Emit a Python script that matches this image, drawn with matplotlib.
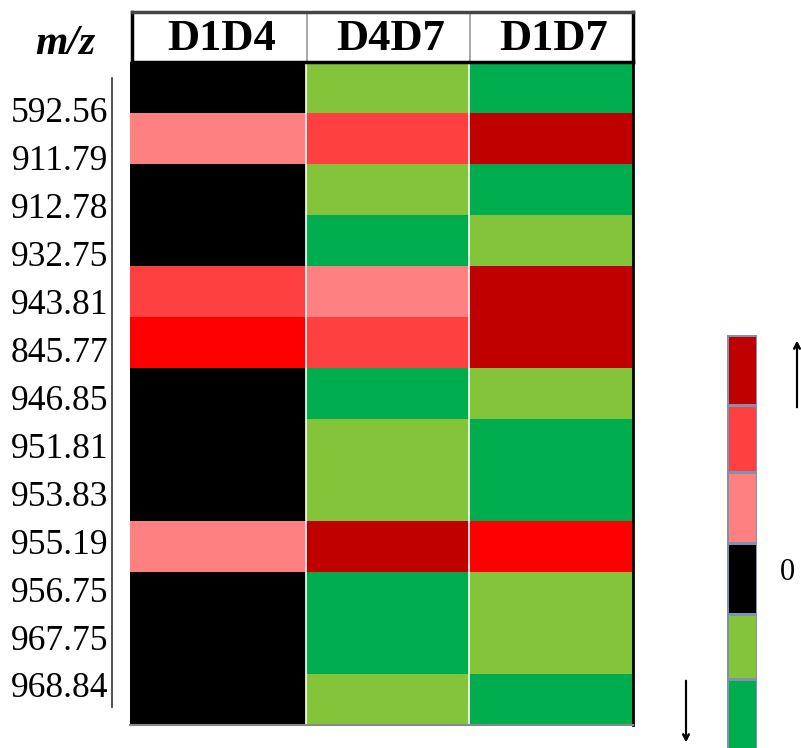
import numpy as np
import matplotlib.pyplot as plt
from matplotlib.colors import ListedColormap, BoundaryNorm
from matplotlib.lines import Line2D

# m/z rows and pairwise comparisons
mz_labels = ["592.56", "911.79", "912.78", "932.75", "943.81", "845.77", "946.85",
             "951.81", "953.83", "955.19", "956.75", "967.75", "968.84"]
comparisons = ["D1D4", "D4D7", "D1D7"]

# change level per cell: -2 strong down ... 0 unchanged ... 4 strong up
d1d4 = [0, 1, 0, 0, 2, 3, 0, 0, 0, 1, 0, 0, 0]
d4d7 = [-1, 2, -1, -2, 1, 2, -2, -1, -1, 4, -2, -2, -1]
d1d7 = [-2, 4, -2, -1, 4, 4, -1, -2, -2, 3, -1, -1, -2]

level_colors = ["#00AD4E", "#84C43A", "#000000", "#FF8080", "#FF4040", "#FF0000", "#C00000"]
# legend scale (top to bottom)
scale_levels = [4, 2, 1, 0, -1, -2]

W, H = 801, 748
serif = "Liberation Serif"

# layout in pixels
col_edges = [130, 306, 469, 633]
row_top, row_bottom = 62, 725
scale_edges = [335, 405, 472, 543, 614, 679, 760]


def px_axes(fig, left, top, right, bottom):
    return fig.add_axes([left / W, 1 - bottom / H, (right - left) / W, (bottom - top) / H])


def fy(y):
    return 1 - y / H


cmap = ListedColormap(level_colors)
norm = BoundaryNorm(np.arange(-2.5, 5.5, 1), cmap.N)

fig = plt.figure(figsize=(W / 100, H / 100), dpi=100)

# heatmap, drawn in pixel units so the column widths follow col_edges
data = np.array([d1d4, d4d7, d1d7]).T
n_rows = len(mz_labels)
row_edges = np.linspace(row_top, row_bottom, n_rows + 1)
ax = px_axes(fig, col_edges[0], row_top, col_edges[-1], row_bottom)
ax.pcolormesh(col_edges, row_edges, data, cmap=cmap, norm=norm)
ax.set_xlim(col_edges[0], col_edges[-1])
ax.set_ylim(row_bottom, row_top)
ax.set_xticks([])
# labels sit on a slightly tighter pitch than the rows
ax.set_yticks(np.linspace(110, 685, n_rows))
ax.set_yticklabels(mz_labels, fontsize=25.5, family=serif)
ax.tick_params(axis="y", length=0, pad=15.5)
for x in col_edges[1:-1]:
    ax.axvline(x, color="white", lw=1.2)
for side in ("top", "left"):
    ax.spines[side].set_visible(False)
ax.spines["right"].set_linewidth(2)
ax.spines["bottom"].set_color("#888888")
ax.spines["bottom"].set_linewidth(1.5)

# column header box
hx = px_axes(fig, 132, 12, col_edges[-1], row_top)
hx.set_xlim(col_edges[0], col_edges[-1])
hx.set_ylim(row_top, 12)
hx.set_xticks([])
hx.set_yticks([])
for i, name in enumerate(comparisons):
    hx.text((col_edges[i] + col_edges[i + 1]) / 2 + 2, 39, name, ha="center", va="center",
            fontsize=32, fontweight="bold", family=serif)
for x in col_edges[1:-1]:
    hx.axvline(x, color="#999999", lw=1.2)
for side in hx.spines.values():
    side.set_linewidth(2.5)
hx.spines["top"].set_color("#444444")

fig.text(65 / W, fy(44), "m/z", ha="center", va="center", fontsize=30,
         fontweight="bold", fontstyle="italic", family=serif)

# bracket line beside the row labels
fig.add_artist(Line2D([112 / W, 112 / W], [fy(78), fy(707)], color="#333333", lw=1.2))

# colour scale
cx = px_axes(fig, 727, scale_edges[0], 757, scale_edges[-1])
cx.pcolormesh([0, 1], scale_edges, np.array(scale_levels)[:, None], cmap=cmap, norm=norm,
              edgecolor="#7F93B0", linewidth=1)
cx.set_ylim(scale_edges[-1], scale_edges[0])
cx.axis("off")
fig.text(787 / W, fy(573), "0", ha="center", va="center", fontsize=22, family=serif)

fig.add_artist(plt.annotate("", xy=(797 / W, fy(338)), xytext=(797 / W, fy(410)),
                            xycoords="figure fraction",
                            arrowprops=dict(arrowstyle="->", lw=1.5, color="black")))
fig.add_artist(plt.annotate("", xy=(686 / W, fy(745)), xytext=(686 / W, fy(678)),
                            xycoords="figure fraction",
                            arrowprops=dict(arrowstyle="->", lw=1.5, color="black")))

fig.savefig("out.png", dpi=100)
